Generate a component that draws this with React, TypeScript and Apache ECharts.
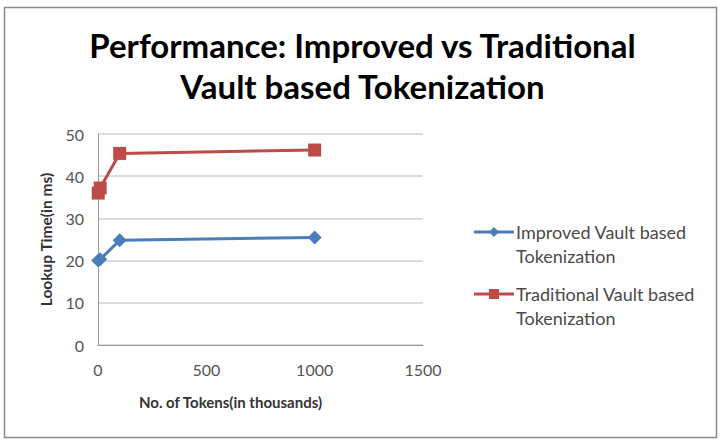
import React, { useEffect, useRef } from "react";
import * as echarts from "echarts";

const xValues = [1, 10, 100, 1000];
const improved = [20, 20.3, 24.8, 25.5];
const traditional = [36, 37.2, 45.4, 46.2];
const seriesNames = ["Improved Vault based Tokenization", "Traditional Vault based Tokenization"];
const legendLines = [
  ["Improved Vault based", "Tokenization"],
  ["Traditional Vault based", "Tokenization"],
];
const titleText = "Performance: Improved vs Traditional\nVault based Tokenization";
const xAxisName = "No. of Tokens(in thousands)";
const yAxisName = "Lookup Time(in ms)";

const BLUE = "#4A7EBB";
const RED = "#BE4B48";
const FONT = "Lato, 'Liberation Sans', sans-serif";

export default function App() {
  const ref = useRef<HTMLDivElement>(null);
  useEffect(() => {
    if (!ref.current) return;
    const chart = echarts.init(ref.current, null, { renderer: "svg" });
    const legendItems: any[] = [];
    const colors = [BLUE, RED];
    const ys = [232, 294];
    legendLines.forEach((lines, i) => {
      const y = ys[i];
      legendItems.push({
        type: "line",
        shape: { x1: 474, y1: y, x2: 514, y2: y },
        style: { stroke: colors[i], lineWidth: 3 },
      });
      if (i === 0) {
        legendItems.push({
          type: "polygon",
          shape: { points: [[494, y - 5], [499, y], [494, y + 5], [489, y]] },
          style: { fill: colors[i] },
        });
      } else {
        legendItems.push({
          type: "rect",
          shape: { x: 489, y: y - 5, width: 10, height: 10 },
          style: { fill: colors[i] },
        });
      }
      legendItems.push({
        type: "text",
        x: 516,
        y: y,
        style: {
          text: lines.join("\n"),
          font: `18px ${FONT}`,
          fill: "#4a4a4a",
          lineHeight: 24,
          verticalAlign: "top",
          padding: [-12, 0, 0, 0],
        },
      });
    });
    chart.setOption({
      animation: false,
      backgroundColor: "#fff",
      title: {
        text: titleText,
        left: "center",
        top: 19,
        textStyle: {
          fontFamily: FONT,
          fontWeight: "bold",
          fontSize: 33,
          lineHeight: 41,
          color: "#000",
        },
      },
      grid: { left: 98, right: 302, top: 134, bottom: 95 },
      xAxis: {
        type: "value",
        min: 0,
        max: 1500,
        interval: 500,
        name: xAxisName,
        nameLocation: "middle",
        nameGap: 49,
        nameTextStyle: {
          fontFamily: FONT,
          fontWeight: "bold",
          fontSize: 15,
          color: "#333",
          padding: [0, 60, 0, 0],
        },
        axisLine: { show: true, lineStyle: { color: "#999", width: 1 } },
        axisTick: { show: false },
        splitLine: { show: false },
        axisLabel: {
          fontFamily: FONT,
          fontSize: 16,
          color: "#555",
          margin: 16,
          formatter: (v: number) => String(v),
        },
      },
      yAxis: {
        type: "value",
        min: 0,
        max: 50,
        interval: 10,
        name: yAxisName,
        nameLocation: "middle",
        nameGap: 44,
        nameTextStyle: { fontFamily: FONT, fontWeight: "bold", fontSize: 15.5, color: "#333" },
        axisLine: { show: true, lineStyle: { color: "#999", width: 1 } },
        axisTick: { show: false },
        splitLine: { show: true, lineStyle: { color: "#d0d0d0", width: 1.5 } },
        axisLabel: { fontFamily: FONT, fontSize: 16, color: "#555", margin: 14 },
      },
      series: [
        {
          name: seriesNames[0],
          type: "line",
          data: xValues.map((x, i) => [x, improved[i]]),
          symbol: "diamond",
          symbolSize: 14,
          lineStyle: { color: BLUE, width: 3 },
          itemStyle: { color: BLUE },
        },
        {
          name: seriesNames[1],
          type: "line",
          data: xValues.map((x, i) => [x, traditional[i]]),
          symbol: "rect",
          symbolSize: 13,
          lineStyle: { color: RED, width: 3 },
          itemStyle: { color: RED },
        },
      ],
      graphic: [
        {
          type: "rect",
          shape: { x: 4.5, y: 7.5, width: 712, height: 430 },
          style: { fill: "none", stroke: "#8a8a8a", lineWidth: 1.5 },
          z: 100,
        },
        ...legendItems,
      ],
    });
    return () => chart.dispose();
  }, []);
  return (
    <div
      ref={ref}
      style={{ position: "fixed", left: 0, top: 0, width: 725, height: 440 }}
    />
  );
}
